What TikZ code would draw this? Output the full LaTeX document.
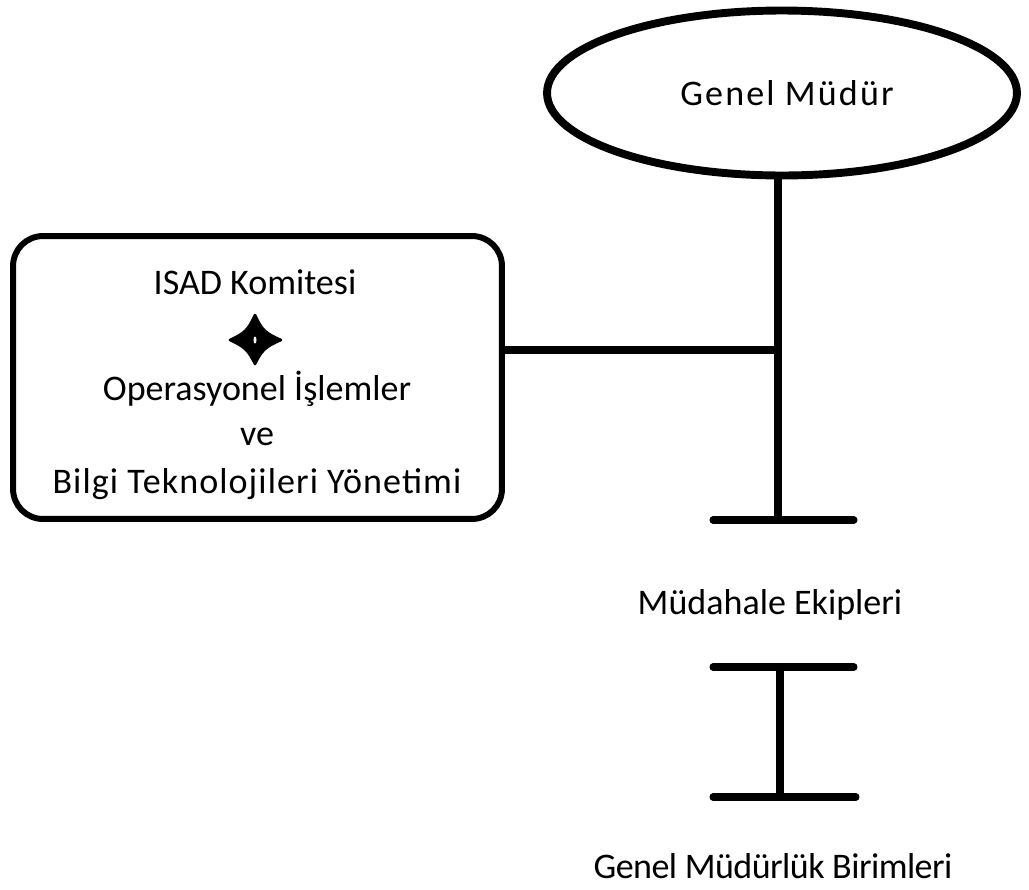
\documentclass[tikz,border=0pt]{standalone}
\usepackage{fontspec}
\setmainfont{Carlito}
\usepackage{tikz}
\usetikzlibrary{shapes.geometric,positioning,calc}
\tikzstyle{conn}     =[line width=4pt, line cap=round]
\tikzstyle{lbl}      =[font=\fontsize{20.5}{24}\selectfont, inner sep=0pt]

\begin{document}
\begin{tikzpicture}[x=0.02cm, y=-0.02cm]
  \useasboundingbox (0,0) rectangle (1029,890);

  % blocks
  \node[draw, ellipse, line width=4.5pt, minimum width=9.4cm, minimum height=3.3cm,
        inner sep=0pt] (ceo) at (782, 93) {};
  \node[lbl] (ceotxt) at (787, 93) {\addfontfeature{LetterSpace=6}Genel Müdür};
  \node[draw, rounded corners=0.6cm, line width=3.4pt, minimum width=9.78cm,
        minimum height=5.66cm, inner sep=0pt] (komite) at (257.5, 377.5) {};

  % texts in the committee box
  \node[lbl] (isad) at (255, 282) {ISAD Komitesi};
  \node[lbl] (ops)  at (257, 389) {Operasyonel İşlemler};
  \node[lbl] (ve)   at (257, 437) {ve};
  \node[lbl] (bt)   at (257, 484) {\addfontfeature{LetterSpace=3}Bilgi Teknolojileri Yönetimi};

  % four pointed star between the lines
  \coordinate (star) at (255, 340);
  \fill[line join=round, draw, line width=1.5pt]
        ($(star)+(0,-25)$) .. controls ($(star)+(7,-10)$) and ($(star)+(10,-7)$) .. ($(star)+(26,0)$)
        .. controls ($(star)+(10,7)$) and ($(star)+(7,10)$) .. ($(star)+(0,24)$)
        .. controls ($(star)+(-7,10)$) and ($(star)+(-10,7)$) .. ($(star)+(-25,0)$)
        .. controls ($(star)+(-10,-7)$) and ($(star)+(-7,-10)$) .. cycle;
  \fill[white] (star) ellipse (1.5 and 3.5);

  % lower labels
  \node[lbl] (teams) at (770, 605) {Müdahale Ekipleri};
  \node[lbl] (units) at (773, 866) {\addfontfeature{LetterSpace=-1.5}Genel Müdürlük Birimleri};

  % junctions
  \coordinate (tee)   at (778, 350);
  \coordinate (bar1)  at (778, 520);
  \coordinate (bar2)  at (780, 667);
  \coordinate (bar3)  at (780, 797);

  % lines
  \draw[conn] (bar1 |- ceo.south) -- (bar1);
  \draw[conn] (komite.east |- tee) -- (tee);
  \draw[conn] ($(bar1)+(-65,0)$) -- ($(bar1)+(76,0)$);
  \draw[conn] ($(bar2)+(-67,0)$) -- ($(bar2)+(74,0)$);
  \draw[conn] (bar2) -- (bar3);
  \draw[conn] ($(bar3)+(-67,0)$) -- ($(bar3)+(76,0)$);

\end{tikzpicture}
\end{document}
